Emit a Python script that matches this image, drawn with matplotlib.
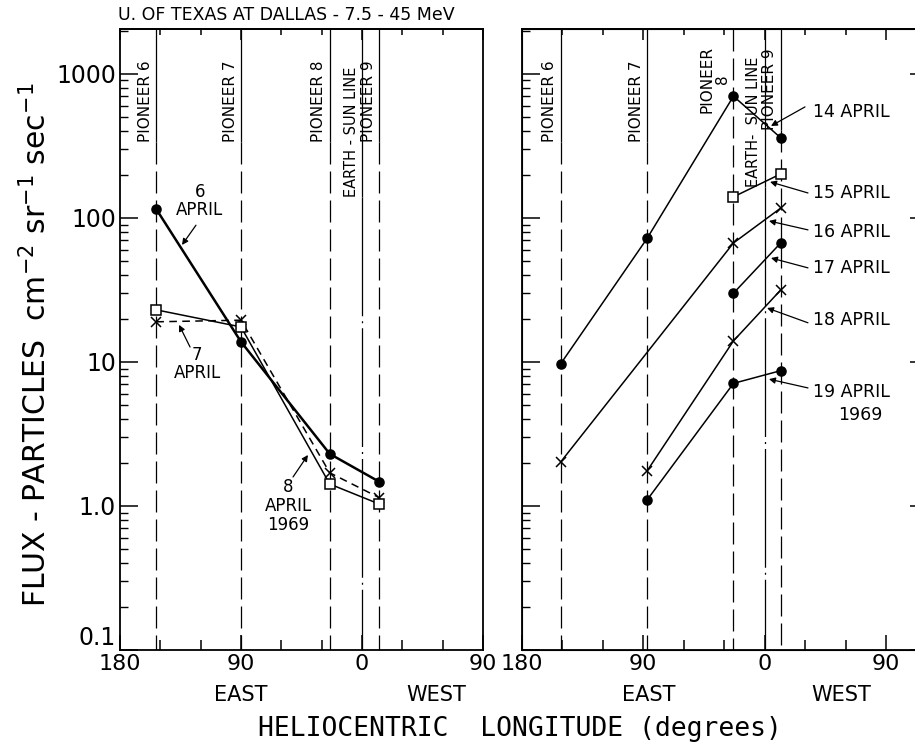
import numpy as np
import matplotlib
matplotlib.use('Agg')
import matplotlib.pyplot as plt
from matplotlib.transforms import blended_transform_factory
from matplotlib.ticker import LogLocator, NullLocator, NullFormatter

plt.rcParams['font.family'] = ['DejaVu Sans']

# ---------------- data ----------------
pioneer_names = ['PIONEER 6', 'PIONEER 7', 'PIONEER 8', 'PIONEER 9']
lon_early = [153, 90, 24, -13]     # heliocentric longitude, east positive (6-8 April)
lon_late = [151, 87, 23, -12]      # (14-19 April)
earth_sun_lon = 0

apr6 = [115, 13.8, 2.3, 1.47]
apr7 = [19, 19.5, 1.7, 1.14]
apr8 = [23, 17.5, 1.42, 1.03]

apr14 = [9.7, 72, 700, 360]
apr15 = [None, None, 140, 202]
apr16 = [2.02, None, 67, 117]
apr17 = [None, None, 30, 67]
apr18 = [None, 1.75, 14, 31.6]
apr19 = [None, 1.1, 7.1, 8.7]

x_ticks = [180, 90, 0, -90]
x_ticklabels = ['180', '90', '0', '90']
x_minor = [150, 120, 60, 30, -30, -60]
y_ticks = [0.1, 1, 10, 100, 1000]
y_ticklabels = ['0.1', '1.0', '10', '100', '1000']
YLIM = (0.1, 2050)

W, H = 915, 742
fig = plt.figure(figsize=(W / 100, H / 100), dpi=100)
ax1 = fig.add_axes([120 / W, 92 / H, 363 / W, 621 / H])
ax2 = fig.add_axes([521.5 / W, 92 / H, 396.5 / W, 621 / H])


def setup(ax, xlim, ylabels):
    ax.set_yscale('log')
    ax.set_xlim(*xlim)
    ax.set_ylim(*YLIM)
    for s in ax.spines.values():
        s.set_linewidth(1.3)
    ax.set_xticks(x_ticks, x_ticklabels)
    ax.set_xticks(x_minor, minor=True)
    ax.tick_params(axis='x', which='major', direction='in', length=11, width=1.1,
                   labelsize=16, pad=3, top=False)
    ax.tick_params(axis='x', which='minor', direction='in', length=7, width=1.1, top=False)
    sec = ax.secondary_xaxis('top')
    sec.set_xticks(x_ticks)
    sec.set_xticks(x_minor, minor=True)
    sec.tick_params(axis='x', which='major', direction='in', length=8, width=1.1,
                    labeltop=False)
    sec.tick_params(axis='x', which='minor', direction='in', length=4.5, width=1.1)
    sec.spines['top'].set_linewidth(1.3)
    ax.set_yticks(y_ticks, y_ticklabels if ylabels else [''] * len(y_ticks))
    ax.yaxis.set_minor_locator(LogLocator(base=10, subs=np.arange(2, 10)))
    ax.yaxis.set_minor_formatter(NullFormatter())
    ax.tick_params(axis='y', which='major', direction='in', length=13, width=1.1,
                   labelsize=17, pad=3, right=False, labelleft=ylabels)
    ax.tick_params(axis='y', which='minor', direction='in', length=6, width=1.0,
                   right=False)


setup(ax1, (180, -90), True)
setup(ax2, (180, -113.7), False)
ax1.get_yticklabels()[0].set_verticalalignment('bottom')

axr = ax2.twinx()
axr.set_yscale('log')
axr.set_ylim(*YLIM)
axr.set_yticks(y_ticks, [''] * len(y_ticks))
axr.yaxis.set_minor_locator(NullLocator())
axr.tick_params(axis='y', which='major', direction='in', length=6, width=1.1)

PDASH = (0, (17.6, 5.6))
ESDASH = (0, (95, 4, 1.6, 4))


def vline(ax, x, ybreak, dashed_top=False, style=PDASH):
    if dashed_top:
        ax.plot([x, x], [YLIM[1], YLIM[0]], color='k', lw=0.9, ls=style)
    else:
        ax.plot([x, x], [YLIM[1], ybreak], color='k', lw=0.9, solid_capstyle='butt')
        ax.plot([x, x], [ybreak, YLIM[0]], color='k', lw=0.9, ls=style)


def vlabel(ax, x, y, txt, fs=11):
    ax.annotate(txt, (x, y), xytext=(-2.5, 0), textcoords='offset points',
                rotation=90, ha='right', va='bottom', fontsize=fs,
                multialignment='center', linespacing=1.0)


# left panel reference lines
for lon, name in zip(lon_early, pioneer_names):
    vline(ax1, lon, 337)
    vlabel(ax1, lon, 337, name)
vline(ax1, earth_sun_lon, 140, style=ESDASH)
vlabel(ax1, earth_sun_lon, 140, 'EARTH - SUN LINE', fs=10.5)

# right panel reference lines
right_breaks = [337, 337, 536, 408]
right_labels = ['PIONEER 6', 'PIONEER 7', 'PIONEER\n8', 'PIONEER 9']
for i, (lon, name, yb) in enumerate(zip(lon_late, right_labels, right_breaks)):
    vline(ax2, lon, yb, dashed_top=(i == 2))
    vlabel(ax2, lon, yb, name)
vline(ax2, earth_sun_lon, 164, style=ESDASH)
vlabel(ax2, earth_sun_lon, 164, 'EARTH-  SUN LINE', fs=10.5)


def series(ax, lon, vals, marker, ls='-', lw=1.1, filled=True, ms=6.5):
    xs = [x for x, v in zip(lon, vals) if v is not None]
    ys = [v for v in vals if v is not None]
    ax.plot(xs, ys, color='k', ls=ls, lw=lw, marker=marker, ms=ms,
            mfc='k' if filled else 'white', mec='k', mew=1.1, zorder=5)


series(ax1, lon_early, apr6, 'o', lw=1.8)
series(ax1, lon_early, apr7, 'x', ls=(0, (5, 3.5)))
series(ax1, lon_early, apr8, 's', filled=False, ms=6.5)

series(ax2, lon_late, apr14, 'o')
series(ax2, lon_late, apr15, 's', filled=False)
series(ax2, lon_late, apr16, 'x')
series(ax2, lon_late, apr17, 'o')
series(ax2, lon_late, apr18, 'x')
series(ax2, lon_late, apr19, 'o')

arrow = dict(arrowstyle='-|>', color='k', lw=0.9, mutation_scale=9,
             shrinkA=0, shrinkB=0)

# left panel annotations
ax1.text(120.5, 131, '6\nAPRIL', ha='center', va='center', fontsize=12, linespacing=1.05)
ax1.annotate('', xy=(133.9, 64.9), xytext=(123.5, 89), arrowprops=arrow)
ax1.text(122.7, 9.7, '7\nAPRIL', ha='center', va='center', fontsize=12, linespacing=1.05)
ax1.annotate('', xy=(136.1, 18.1), xytext=(127.9, 12.7), arrowprops=arrow)
ax1.text(55, 1.0, '8\nAPRIL\n1969', ha='center', va='center', fontsize=12, linespacing=1.05)
ax1.annotate('', xy=(40.2, 2.26), xytext=(51.3, 1.59), arrowprops=arrow)

# right panel annotations
right_notes = [('14 APRIL', 545, (-30, 590), (-4.8, 435)),
               ('15 APRIL', 149, (-32.2, 149), (-4.1, 178)),
               ('16 APRIL', 80, (-32.2, 82.6), (-3.3, 95.3)),
               ('17 APRIL', 45, (-32.2, 45), (-4.8, 52.7)),
               ('18 APRIL', 19.6, (-32.2, 18.7), (-1.9, 23.7)),
               ('19 APRIL', 6.19, (-32.2, 6.6), (-3.3, 7.6))]
for txt, y, start, end in right_notes:
    ax2.text(-35.9, y, txt, ha='left', va='center', fontsize=12.5)
    ax2.annotate('', xy=end, xytext=start, arrowprops=arrow)
ax2.text(-70.7, 4.29, '1969', ha='center', va='center', fontsize=12.5)

# axis words
for ax, (xe, xw) in ((ax1, (90, -55)), (ax2, (86, -57))):
    tr = blended_transform_factory(ax.transData, fig.transFigure)
    ax.text(xe, 1 - 695 / H, 'EAST', transform=tr, ha='center', va='center', fontsize=15)
    ax.text(xw, 1 - 695 / H, 'WEST', transform=tr, ha='center', va='center', fontsize=15)

fig.text(520 / W, 1 - 736 / H, 'HELIOCENTRIC  LONGITUDE (degrees)', ha='center',
         va='baseline', fontsize=19, family='DejaVu Sans Mono')
fig.text(118 / W, 1 - 15 / H, 'U. OF TEXAS AT DALLAS - 7.5 - 45 MeV', ha='left',
         va='center', fontsize=12.5)
fig.text(36 / W, 1 - 345 / H,
         r'FLUX - PARTICLES  cm$^{-2}$ sr$^{-1}$ sec$^{-1}$', rotation=90,
         ha='center', va='center', fontsize=21.5)

fig.savefig('out.png', dpi=100)
